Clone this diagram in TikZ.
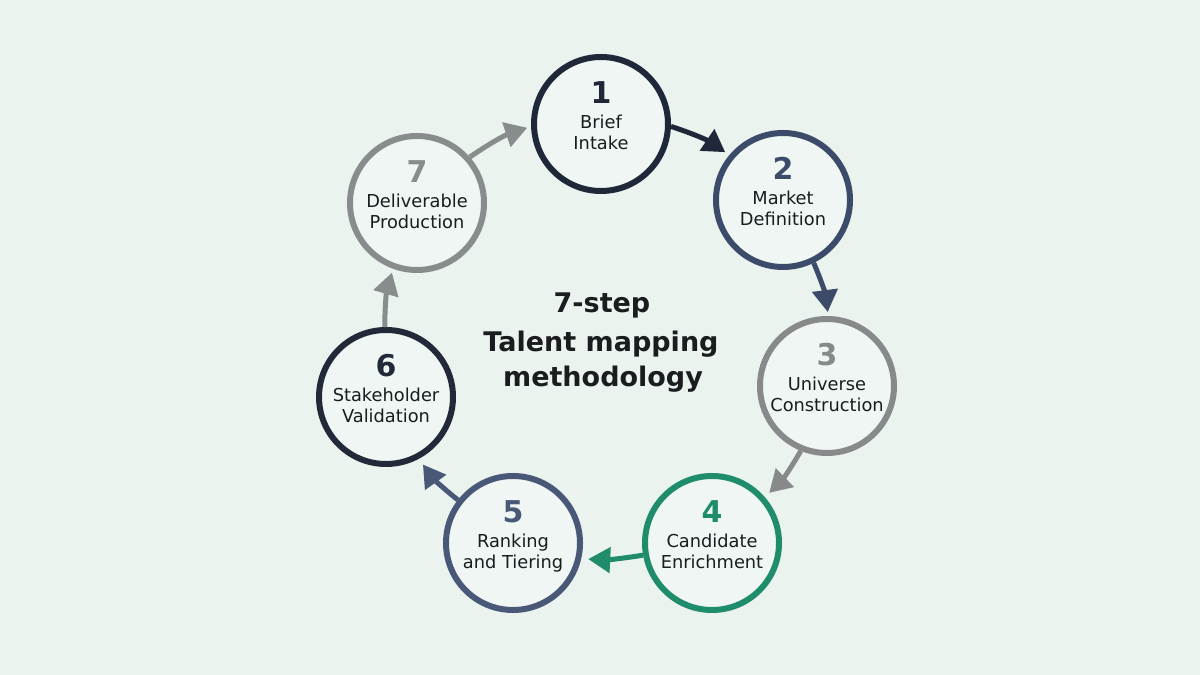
\documentclass[tikz,border=0pt]{standalone}
\usepackage{fontspec}
\setmainfont{DejaVu Sans}
\usetikzlibrary{arrows.meta}
\definecolor{bg}{HTML}{EAF3EE}
\definecolor{inner}{HTML}{F0F6F3}
\definecolor{ink}{HTML}{1A1C1F}
\definecolor{colA}{HTML}{1F2838}
\definecolor{colB}{HTML}{3B4B69}
\definecolor{colC}{HTML}{87898B}
\definecolor{colD}{HTML}{1F8C6C}
\definecolor{colE}{HTML}{4A5878}
\definecolor{colF}{HTML}{222A3A}
\definecolor{colG}{HTML}{898C8D}
\begin{document}
\begin{tikzpicture}[x=1pt,y=1pt,
  stage/.style={circle, draw=#1, line width=6pt, fill=inner, minimum size=134pt, inner sep=0pt},
  num/.style={anchor=base, inner sep=0pt, font=\fontsize{30}{30}\selectfont\bfseries, text=#1},
  lbl/.style={anchor=base, inner sep=0pt, font=\fontsize{17.8}{21}\selectfont, text=ink},
  ttl/.style={anchor=base, inner sep=0pt, font=\fontsize{27}{37}\selectfont\bfseries, text=ink},
  arr/.style={draw=#1, line width=5pt, -{Triangle[length=22pt,width=25pt]}},
]
\fill[bg] (0,0) rectangle (1200,675);
\useasboundingbox (0,0) rectangle (1200,675);

\node[stage=colA] (s1) at (601,551) {};
\node[stage=colB] (s2) at (783,475) {};
\node[stage=colC] (s3) at (827,289) {};
\node[stage=colD] (s4) at (712,132) {};
\node[stage=colE] (s5) at (513,132) {};
\node[stage=colF] (s6) at (386,278) {};
\node[stage=colG] (s7) at (417,472) {};

\node[num=colA] (n1) at ([yshift=20pt]s1.center) {1};
\node[lbl] (l1a) at ([yshift=-5pt]s1.center) {Brief};
\node[lbl] (l1b) at ([yshift=-26pt]s1.center) {Intake};

\node[num=colB] (n2) at ([yshift=20pt]s2.center) {2};
\node[lbl] (l2a) at ([yshift=-5pt]s2.center) {Market};
\node[lbl] (l2b) at ([yshift=-26pt]s2.center) {Definition};

\node[num=colC] (n3) at ([yshift=20pt]s3.center) {3};
\node[lbl] (l3a) at ([yshift=-5pt]s3.center) {Universe};
\node[lbl] (l3b) at ([yshift=-26pt]s3.center) {Construction};

\node[num=colD] (n4) at ([yshift=20pt]s4.center) {4};
\node[lbl] (l4a) at ([yshift=-5pt]s4.center) {Candidate};
\node[lbl] (l4b) at ([yshift=-26pt]s4.center) {Enrichment};

\node[num=colE] (n5) at ([yshift=20pt]s5.center) {5};
\node[lbl] (l5a) at ([yshift=-5pt]s5.center) {Ranking};
\node[lbl] (l5b) at ([yshift=-26pt]s5.center) {and Tiering};

\node[num=colF] (n6) at ([yshift=20pt]s6.center) {6};
\node[lbl] (l6a) at ([yshift=-5pt]s6.center) {Stakeholder};
\node[lbl] (l6b) at ([yshift=-26pt]s6.center) {Validation};

\node[num=colG] (n7) at ([yshift=20pt]s7.center) {7};
\node[lbl] (l7a) at ([yshift=-5pt]s7.center) {Deliverable};
\node[lbl] (l7b) at ([yshift=-26pt]s7.center) {Production};

\node[ttl] (t1) at (602,362) {7-step};
\node[ttl] (t2) at (601,323) {Talent mapping};
\node[ttl] (t3) at (603,288) {methodology};

\draw[arr=colA, shorten >=5pt] (s1.-2) to[bend left=8] (s2.140);
\draw[arr=colB, shorten >=4pt] (s2.-64) to[bend left=8] (s3.89);
\draw[arr=colC, shorten >=6pt] (s3.-112) to[bend left=8] (s4.41);
\draw[arr=colD, shorten >=7pt] (s4.-170) to[bend left=6] (s5.-13);
\draw[arr=colE, shorten >=7pt] (s5.142) to[bend left=8] (s6.-62);
\draw[arr=colG, shorten >=4pt] (s6.91) to[bend left=8] (s7.-110);
\draw[arr=colG, shorten >=4pt] (s7.41) to[bend left=8] (s1.182);
\end{tikzpicture}
\end{document}
